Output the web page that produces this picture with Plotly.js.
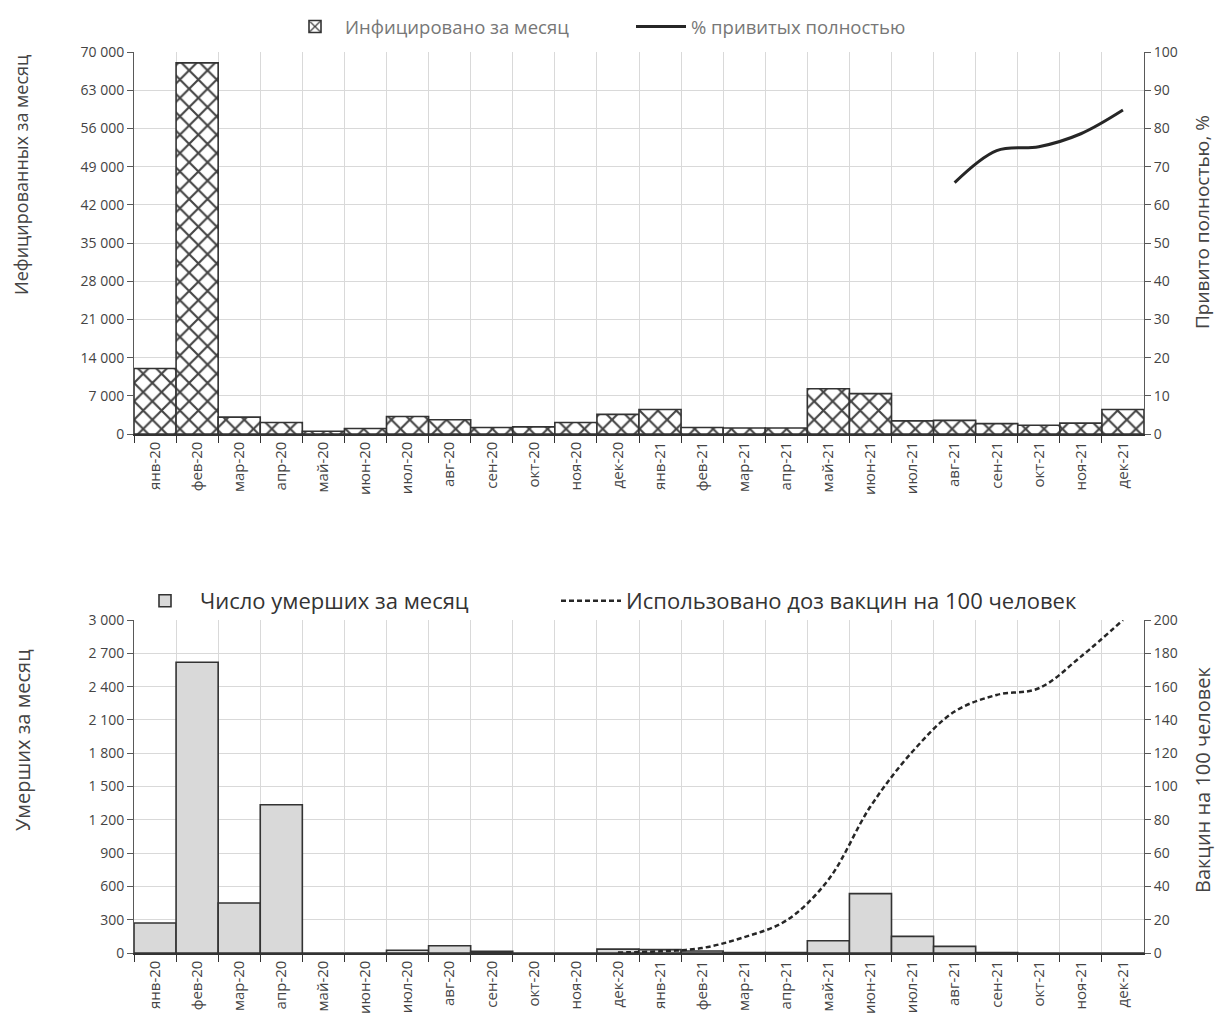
<!DOCTYPE html>
<html>
<head>
<meta charset="utf-8">
<script src="https://cdn.plot.ly/plotly-3.0.1.min.js"></script>
<style>
  html, body { margin: 0; padding: 0; background: #fff; }
  #chart { width: 1217px; height: 1034px; }
</style>
</head>
<body>
<div id="chart"></div>
<script>
const months = ["янв-20","фев-20","мар-20","апр-20","май-20","июн-20","июл-20","авг-20","сен-20","окт-20","ноя-20","дек-20",
                "янв-21","фев-21","мар-21","апр-21","май-21","июн-21","июл-21","авг-21","сен-21","окт-21","ноя-21","дек-21"];

const infectedPerMonth = [12000, 68000, 3100, 2100, 500, 1000, 3200, 2600, 1200, 1300, 2100, 3600,
                          4500, 1200, 1100, 1100, 8300, 7400, 2400, 2500, 1900, 1600, 2000, 4500];

const fullyVaccinatedPct = [null, null, null, null, null, null, null, null, null, null, null, null,
                            null, null, null, null, null, null, null, 65.8, 74.2, 75.2, 78.6, 84.8];

const deathsPerMonth = [270, 2620, 450, 1335, 0, 0, 25, 65, 15, 0, 0, 35,
                        30, 18, 3, 3, 110, 535, 150, 60, 5, 0, 0, 0];

const dosesPer100 = [null, null, null, null, null, null, null, null, null, null, null, 0.3,
                     1, 3, 9.5, 19.5, 44, 88, 121, 145, 155, 159, 178, 200];

const axisTitles = ["Иефицированных за месяц", "Привито полностью, %", "Умерших за месяц", "Вакцин на 100 человек"];

const FONT = "'Open Sans', 'DejaVu Sans', sans-serif";
const GRID = "#d9d9d9";
const AX = "#595959";

const traces = [
  {
    type: "bar", name: "Инфицировано за месяц",
    x: months, y: infectedPerMonth, xaxis: "x", yaxis: "y",
    marker: {
      color: "#ffffff",
      line: { color: "#333333", width: 1.6 },
      pattern: { shape: "x", fgcolor: "#444444", bgcolor: "#ffffff", size: 13, solidity: 0.3 }
    },
    legend: "legend"
  },
  {
    type: "scatter", mode: "lines", name: "% привитых полностью",
    x: months, y: fullyVaccinatedPct, xaxis: "x", yaxis: "y2",
    line: { color: "#262626", width: 3, shape: "spline", smoothing: 1 },
    legend: "legend3"
  },
  {
    type: "bar", name: "Число умерших за месяц",
    x: months, y: deathsPerMonth, xaxis: "x2", yaxis: "y3",
    marker: { color: "#d9d9d9", line: { color: "#333333", width: 1.6 } },
    legend: "legend2"
  },
  {
    type: "scatter", mode: "lines", name: "Использовано доз вакцин на 100 человек",
    x: months, y: dosesPer100, xaxis: "x2", yaxis: "y4",
    line: { color: "#262626", width: 2.5, dash: "5px,3px", shape: "spline", smoothing: 1 },
    legend: "legend4"
  }
];

const xCommon = {
  type: "category",
  tickson: "boundaries",
  showgrid: true, gridcolor: GRID, gridwidth: 1,
  showline: true, linecolor: "#333333", linewidth: 1.6,
  ticks: "outside", ticklen: 7, tickcolor: "#333333",
  tickangle: -90,
  tickfont: { family: FONT, size: 15, color: "#444" },
  domain: [134/1217, 1144/1217],
  fixedrange: true
};

const yCommon = {
  showgrid: true, gridcolor: GRID, gridwidth: 1,
  showline: true, linecolor: AX, linewidth: 1,
  ticks: "outside", ticklen: 6, tickcolor: AX,
  zeroline: false,
  tickfont: { family: FONT, size: 14, color: "#444" }
};

const topDom = [1 - 434/1034, 1 - 52/1034];
const botDom = [1 - 953/1034, 1 - 620/1034];

function vTitle(text, xpx, ypx, size) {
  return {
    text: text, xref: "paper", yref: "paper",
    x: xpx / 1217, y: 1 - ypx / 1034, xanchor: "center", yanchor: "middle",
    textangle: -90, showarrow: false,
    font: { family: FONT, size: size, color: "#444" }
  };
}

function legendAt(xpx, ypx, size, color, itemwidth) {
  return {
    orientation: "h", x: xpx / 1217, xanchor: "left", y: 1 - ypx / 1034, yanchor: "middle",
    font: { family: FONT, size: size, color: color },
    bgcolor: "rgba(0,0,0,0)", itemwidth: itemwidth
  };
}

const layout = {
  width: 1217, height: 1034,
  margin: { l: 0, r: 0, t: 0, b: 0 },
  paper_bgcolor: "#ffffff", plot_bgcolor: "#ffffff",
  separators: ", ",
  bargap: 0,
  font: { family: FONT, color: "#444" },
  xaxis: Object.assign({}, xCommon, { anchor: "y" }),
  xaxis2: Object.assign({}, xCommon, { anchor: "y3" }),
  yaxis: Object.assign({}, yCommon, {
    domain: topDom, range: [0, 70000], dtick: 7000, tickformat: ",d", anchor: "x"
  }),
  yaxis2: Object.assign({}, yCommon, {
    domain: topDom, range: [0, 100], dtick: 10, overlaying: "y", side: "right", anchor: "x",
    showgrid: false
  }),
  yaxis3: Object.assign({}, yCommon, {
    domain: botDom, range: [0, 3000], dtick: 300, tickformat: ",d", anchor: "x2"
  }),
  yaxis4: Object.assign({}, yCommon, {
    domain: botDom, range: [0, 200], dtick: 20, overlaying: "y3", side: "right", anchor: "x2",
    showgrid: false
  }),
  annotations: [
    vTitle(axisTitles[0], 21, 175, 18),
    vTitle(axisTitles[1], 1202, 222, 19),
    vTitle(axisTitles[2], 22, 740, 20),
    vTitle(axisTitles[3], 1202, 780, 20)
  ],
  legend: legendAt(285, 27, 18.5, "#777", 50),
  legend3: legendAt(631, 27, 18.5, "#777", 50),
  legend2: legendAt(130, 601, 22, "#333", 60),
  legend4: legendAt(556, 601, 22, "#333", 60),
  showlegend: true
};

Plotly.newPlot("chart", traces, layout, { staticPlot: true, displayModeBar: false });
</script>
</body>
</html>
